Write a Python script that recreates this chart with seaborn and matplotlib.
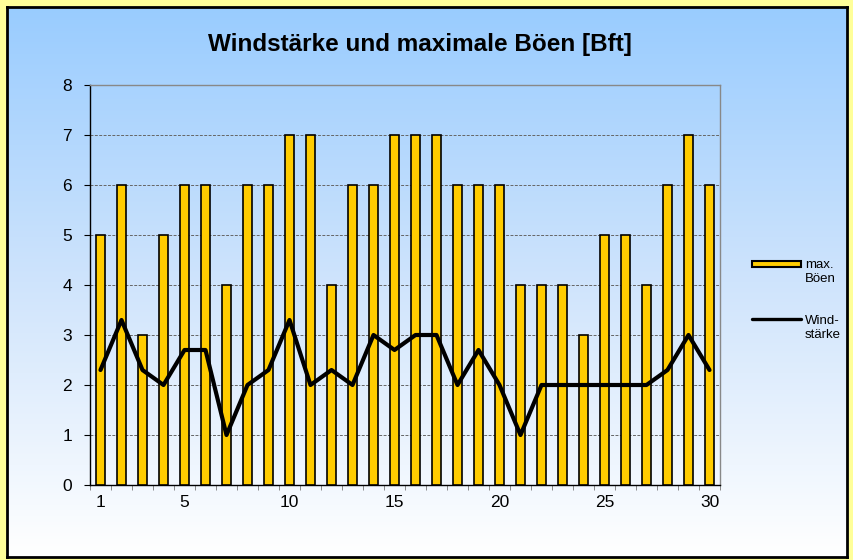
import matplotlib
matplotlib.use("Agg")
import matplotlib.pyplot as plt
import seaborn as sns
import numpy as np
import pandas as pd
from matplotlib.patches import Rectangle
from matplotlib.lines import Line2D

# Daten: Tage 1..30
days = list(range(1, 31))
boeen = [5, 6, 3, 5, 6, 6, 4, 6, 6, 7, 7, 4, 6, 6, 7, 7, 7, 6, 6, 6,
         4, 4, 4, 3, 5, 5, 4, 6, 7, 6]
windstaerke = [2.3, 3.3, 2.3, 2, 2.7, 2.7, 1, 2, 2.3, 3.3, 2, 2.3, 2, 3, 2.7,
               3, 3, 2, 2.7, 2, 1, 2, 2, 2, 2, 2, 2, 2.3, 3, 2.3]
tick_labels = ["1", "5", "10", "15", "20", "25", "30"]

df = pd.DataFrame({"Tag": [str(d) for d in days], "Boeen": boeen,
                   "Wind": windstaerke, "pos": np.arange(len(days))})

sns.set_style("white")
plt.rcParams['font.family'] = ['Liberation Sans', 'DejaVu Sans']
plt.rcParams['text.color'] = 'black'
plt.rcParams['xtick.color'] = 'black'
plt.rcParams['ytick.color'] = 'black'

fig = plt.figure(figsize=(8.54, 5.6), dpi=100)
fig.patch.set_facecolor('#FFFF99')

# Hintergrund mit Verlauf und schwarzem Rahmen
bg = fig.add_axes([7 / 854, 3 / 560, 840 / 854, 550 / 560])
grad = np.linspace(0, 1, 256).reshape(-1, 1)
cmap = matplotlib.colors.LinearSegmentedColormap.from_list(
    "bg", ["#99CCFF", "#CFE4FC", "#FFFFFF"])
bg.imshow(grad, aspect='auto', cmap=cmap, extent=[0, 1, 0, 1], origin='upper')
bg.set_xticks([])
bg.set_yticks([])
for s in bg.spines.values():
    s.set_color('black')
    s.set_linewidth(2)

ax = fig.add_axes([90 / 854, 75 / 560, 630 / 854, 400 / 560])
ax.set_facecolor('none')

sns.barplot(data=df, x="Tag", y="Boeen", color='#FFCC00', edgecolor='black',
            linewidth=1.2, width=0.42, saturation=1, ax=ax, zorder=3)
sns.lineplot(data=df, x="pos", y="Wind", color='black', linewidth=3,
             ax=ax, zorder=4)

ax.set_xlim(-0.5, 29.5)
ax.set_ylim(0, 8)
ax.set_yticks(range(0, 9))
ax.yaxis.grid(True, color='#666666', linestyle=(0, (3, 1.5)), linewidth=0.7)
ax.set_axisbelow(True)

label_pos = [int(t) - 1 for t in tick_labels]
ax.set_xticks(label_pos)
ax.set_xticklabels(tick_labels)
ax.set_xticks(np.arange(-0.5, 30, 1), minor=True)
ax.tick_params(axis='x', which='major', length=0, pad=7, labelsize=12.5)
ax.tick_params(axis='x', which='minor', length=3.6, color='#777777', direction='out')
ax.tick_params(axis='y', length=4, direction='out', labelsize=12.5, pad=9)
ax.xaxis.set_ticks_position('bottom')
ax.yaxis.set_ticks_position('left')

ax.set_xlabel("")
ax.set_ylabel("")
ax.spines['left'].set_color('black')
ax.spines['bottom'].set_color('black')
ax.spines['right'].set_color('#888888')
ax.spines['top'].set_color('#888888')
for s in ax.spines.values():
    s.set_linewidth(1)

fig.text(420 / 854, 1 - 45 / 560, "Windstärke und maximale Böen [Bft]",
         ha='center', va='center', fontsize=17.5, fontweight='bold')

# Legende, von Hand gesetzt (Symbol neben der ersten Textzeile)
fig.patches.append(Rectangle((752 / 854, 1 - 267 / 560), 49 / 854, 6 / 560,
                             transform=fig.transFigure, facecolor='#FFCC00',
                             edgecolor='black', linewidth=1.5))
fig.lines.append(Line2D([752 / 854, 801 / 854], [1 - 319 / 560, 1 - 319 / 560],
                        transform=fig.transFigure, color='black', linewidth=2.4))
fig.text(805 / 854, 1 - 272 / 560, "max.\nBöen", ha='left', va='center',
         fontsize=9.5, linespacing=1.3)
fig.text(805 / 854, 1 - 328 / 560, "Wind-\nstärke", ha='left', va='center',
         fontsize=9.5, linespacing=1.3)

fig.savefig("out.png", dpi=100, facecolor=fig.get_facecolor())
